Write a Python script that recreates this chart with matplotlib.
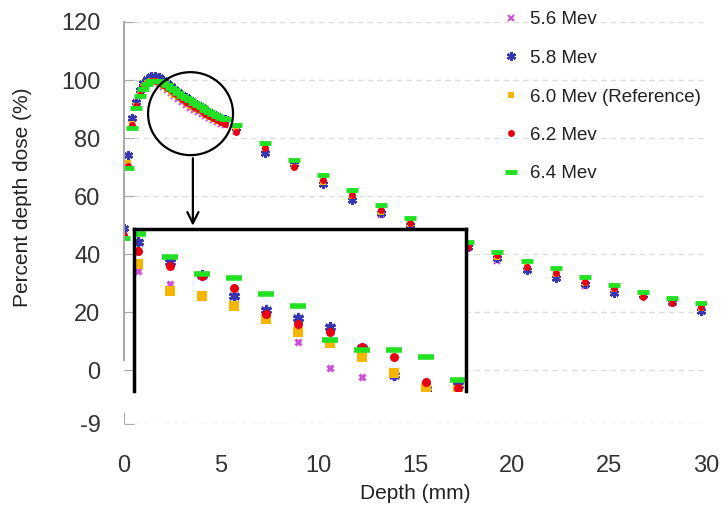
import numpy as np
import matplotlib.pyplot as plt
from matplotlib.patches import Ellipse

# depth points (mm)
depth = [0, 0.2, 0.4, 0.6, 0.8, 1.0, 1.2, 1.4, 1.6, 1.8, 2.0, 2.2, 2.4, 2.6, 2.8, 3.0,
         3.2, 3.4, 3.6, 3.8, 4.0, 4.2, 4.4, 4.6, 4.8, 5.0, 5.2,
         5.75, 7.25, 8.75, 10.25, 11.75, 13.25, 14.75, 16.25, 17.75, 19.25, 20.75,
         22.25, 23.75, 25.25, 26.75, 28.25, 29.75]

pdd_56 = [47, 71, 85, 91, 95, 98, 99.5, 100, 99.5, 98.5, 97.5, 96.5, 95.5, 94.5, 93.5, 92.5,
          91.5, 90.5, 89.7, 89, 88.2, 87.5, 86.8, 86.2, 85.6, 85, 84.5,
          82.5, 75.5, 70.5, 64.5, 59, 53.5, 49.5, 46, 42, 37.5, 35,
          32, 29, 27, 25.5, 23, 20.5]
pdd_58 = [49, 74, 87, 92.5, 96.5, 99, 100.5, 101.5, 101.5, 101, 100, 99, 98, 97, 96, 95,
          94, 93, 92.2, 91.4, 90.6, 89.8, 89, 88.3, 87.6, 87, 86.4,
          83.5, 75, 71, 64, 58.6, 54, 50, 46.5, 42.5, 38.5, 34.5,
          31.7, 29.5, 26.6, 26, 23.5, 20.5]
pdd_60 = [46, 71.5, 85, 91, 95, 97.5, 99, 99.5, 99.5, 99, 98, 97, 96, 95, 94, 93,
          92, 91.2, 90.4, 89.6, 88.8, 88, 87.3, 86.6, 86, 85.5, 85,
          83, 76.5, 70, 65, 60, 54.5, 50.2, 46.5, 42.5, 39, 35.5,
          33, 30, 28, 25.5, 23.5, 21.5]
pdd_62 = [46.6, 70.5, 84.5, 91, 95, 97.5, 99, 99.8, 99.8, 99.2, 98.3, 97.4, 96.4, 95.4, 94.4, 93.4,
          92.5, 91.6, 90.8, 90, 89.2, 88.4, 87.6, 86.9, 86.2, 85.6, 85,
          82, 76.5, 70, 65.5, 60.3, 55.2, 50.7, 46.8, 42.4, 39.7, 35.5,
          33.4, 30.3, 28.3, 25.2, 23.1, 21.7]
pdd_64 = [45.5, 69.7, 83.4, 90.5, 94.5, 97, 98.7, 99.5, 99.8, 99.6, 99, 98.2, 97.3, 96.4, 95.5, 94.6,
          93.8, 93, 92.2, 91.4, 90.6, 89.8, 89, 88.3, 87.6, 87, 86.4,
          84.5, 78.3, 72.4, 67.2, 62, 56.9, 52.4, 48, 44.1, 40.7, 37.6,
          35.2, 32, 29.3, 26.9, 24.8, 23.1]

# zoomed-in detail (inset)
inset_depth = [1.6, 2.0, 2.4, 2.8, 3.2, 3.6, 4.0, 4.4, 4.8, 5.2, 5.6]
inset_56 = [95.8, 94.5, 93.2, 92.3, 91.0, 88.7, 86.1, 85.2, 85.3, 83.9, 83.7]
inset_58 = [98.7, 96.7, 95.4, 93.3, 91.9, 91.1, 90.2, 88.1, 85.4, 84.0, 84.4]
inset_60 = [96.5, 93.8, 93.3, 92.3, 91.0, 89.7, 88.6, 87.2, 85.6, 84.1, 83.9]
inset_62 = [97.8, 96.3, 95.3, 94.1, 91.5, 90.5, 89.7, 88.2, 87.2, 84.7, 84.1]
inset_64 = [99.5, 97.2, 95.5, 95.1, 93.5, 92.3, 88.9, 87.9, 87.9, 87.2, 84.9]

labels = ['5.6 Mev', '5.8 Mev', '6.0 Mev (Reference)', '6.2 Mev', '6.4 Mev']
colors = ['#d050d8', '#3636b0', '#f7b500', '#e60012', '#22e022']
ytick_vals = [-18.6, 0, 20, 40, 60, 80, 100, 120]
ytick_labels = ['-9', '0', '20', '40', '60', '80', '100', '120']
xtick_vals = [0, 5, 10, 15, 20, 25, 30]

plt.rcParams['font.family'] = ['Liberation Sans', 'DejaVu Sans']

styles = [
    dict(marker='x', ms=4.5, mew=1.5),
    dict(marker=(6, 2, 0), ms=6.5, mew=1.7),
    dict(marker='s', ms=5, mew=0),
    dict(marker='o', ms=5, mew=0),
    dict(marker='_', ms=9, mew=3.5),
]

fig = plt.figure(figsize=(7.21, 5.25), dpi=100)
ax = fig.add_axes([124 / 721, 101 / 525, 582 / 721, 402 / 525])

series = [pdd_56, pdd_58, pdd_60, pdd_62, pdd_64]
for vals, lab, c, st in zip(series, labels, colors, styles):
    ax.plot(depth, vals, ls='none', color=c, label=lab, **st)

ax.set_xlim(0, 30)
ax.set_ylim(-18.6, 120)
ax.set_yticks(ytick_vals)
ax.set_yticklabels(ytick_labels, fontsize=17, color='#333333')
ax.set_xticks(xtick_vals)
ax.set_xticklabels([str(v) for v in xtick_vals], fontsize=17, color='#333333')
ax.tick_params(axis='y', direction='in', length=7, color='#aaaaaa', pad=17)
ax.tick_params(axis='x', length=0, pad=22)
ax.yaxis.grid(True, ls=(0, (4, 3)), color='#dddddd', lw=1)
for s in ['top', 'right', 'bottom']:
    ax.spines[s].set_visible(False)
ax.spines['left'].set_color('#aaaaaa')
ax.spines['left'].set_linewidth(1.5)
ax.spines['left'].set_bounds(3.5, 120)
ax.axvline(0, ymin=0, ymax=0.025, color='#aaaaaa', lw=1.5)

ax.set_xlabel('Depth (mm)', fontsize=15, color='#222222')
ax.xaxis.set_label_coords(0.5, -0.149)
ax.set_ylabel('Percent depth dose (%)', fontsize=15, color='#222222')
ax.yaxis.set_label_coords(-0.158, 0.565)

# circle around the zoomed region and arrow to inset
ax.add_patch(Ellipse((3.43, 88.4), 4.38, 28.6, fill=False, ec='black', lw=1.6, zorder=5))
ax.annotate('', xy=(3.55, 48.8), xytext=(3.55, 74.0),
            arrowprops=dict(arrowstyle='->', color='black', lw=1.6, mutation_scale=20), zorder=5)

leg = ax.legend(loc='upper left', bbox_to_anchor=(492 / 721, 1 - 2 / 525),
                bbox_transform=fig.transFigure, frameon=False, fontsize=13.5,
                labelspacing=1.14, handlelength=1.0, handletextpad=0.5, borderpad=0)
for t in leg.get_texts():
    t.set_color('#222222')

# inset
axin = fig.add_axes([134 / 721, 134 / 525, 332 / 721, 162 / 525])
inset_styles = [
    dict(marker='x', ms=4.5, mew=2.2),
    dict(marker=(6, 2, 0), ms=8, mew=2.2),
    dict(marker='s', ms=6.5, mew=0),
    dict(marker='o', ms=6.5, mew=0),
    dict(marker='_', ms=11, mew=4),
]
for vals, c, st in zip([inset_56, inset_58, inset_60, inset_62, inset_64], colors, inset_styles):
    axin.plot(inset_depth, vals, ls='none', color=c, **st)
axin.set_xlim(1.55, 5.7)
axin.set_ylim(83.8, 100)
axin.set_xticks([])
axin.set_yticks([])
axin.spines['bottom'].set_visible(False)
for s in ['left', 'top', 'right']:
    axin.spines[s].set_linewidth(2.5)
    axin.spines[s].set_color('black')

plt.savefig('out.png', dpi=100)
